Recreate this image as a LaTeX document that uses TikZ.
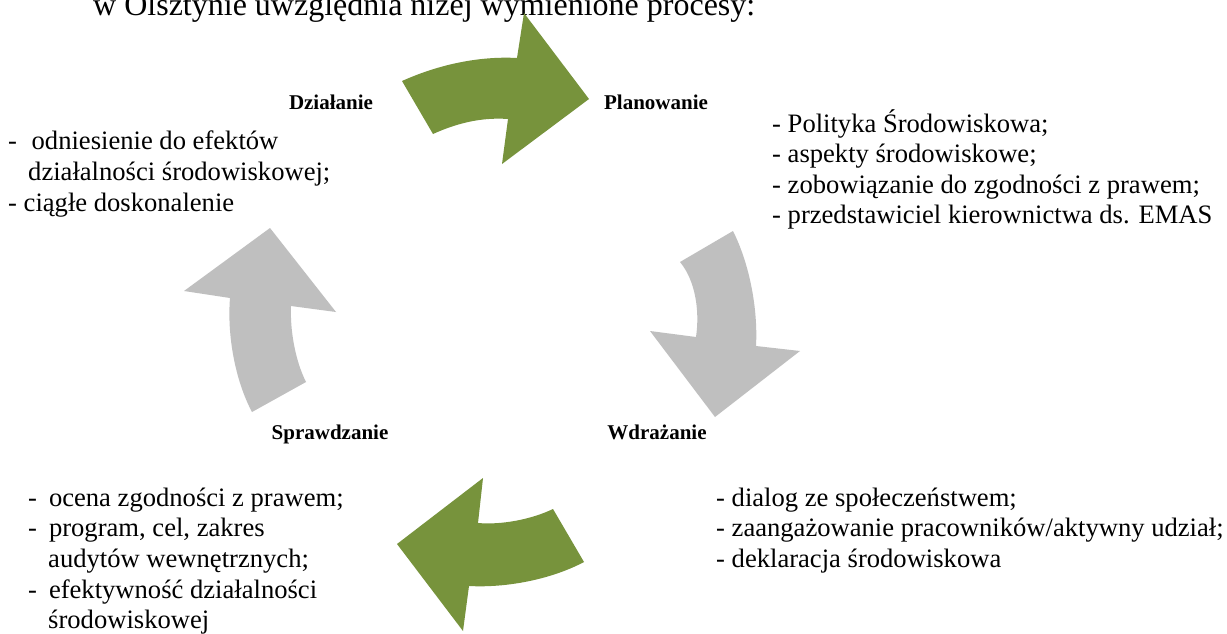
\documentclass[tikz,border=0pt]{standalone}
\usepackage{fontspec}
\setmainfont{Liberation Serif}
\definecolor{olive}{RGB}{119,147,60}
\definecolor{lgray}{RGB}{191,191,191}
\tikzset{
  body/.style={anchor=base west, inner sep=0pt, font=\fontsize{26.6}{30}\selectfont},
  toptext/.style={anchor=base west, inner sep=0pt, font=\fontsize{32}{36}\selectfont},
  lbl/.style={anchor=base, inner sep=0pt, font=\bfseries\fontsize{21}{25}\selectfont},
  greenarrow/.style={fill=olive, draw=none},
  grayarrow/.style={fill=lgray, draw=none}
}
\begin{document}
\begin{tikzpicture}[x=1pt,y=-1pt]
\clip (0,0) rectangle (1227,634);
\fill[white] (0,0) rectangle (1227,634);
% top cut-off text
\node[toptext] (intro) at (93,16) {w Olsztynie uwzględnia niżej wymienione procesy:};
% arrows
\fill[greenarrow] (402,81) -- (433,134) .. controls (455,124) and (480,117) .. (508,119)
  -- (502,164) -- (589,99) -- (524,13) -- (517,58)
  .. controls (480,56) and (440,64) .. cycle;
\fill[grayarrow] (680,262) -- (733,231) .. controls (750,265) and (758,310) .. (756,346)
  -- (800,351) -- (715,417) -- (650,331) -- (696,337)
  .. controls (700,310) and (695,280) .. cycle;
\fill[greenarrow] (553,509) -- (584,562) .. controls (550,580) and (505,588) .. (469,586)
  -- (463,631) -- (397,544) -- (483,478) -- (478,523)
  .. controls (500,525) and (530,520) .. cycle;
\fill[grayarrow] (252,412) -- (306,382) .. controls (295,360) and (290,330) .. (291,306)
  -- (336,312) -- (270,228) -- (184,291) -- (230,298)
  .. controls (227,335) and (235,380) .. cycle;
% labels
\node[lbl] (dzialanie) at (331,110) {Działanie};
\node[lbl] (planowanie) at (656,110) {Planowanie};
\node[lbl] (wdrazanie) at (657,439) {Wdrażanie};
\node[lbl] (sprawdzanie) at (330,439) {Sprawdzanie};
% top-left block
\node[body] (a1) at (8,149) {-\hspace{0.55em}odniesienie do efektów};
\node[body] (a2) at (28,180) {działalności środowiskowej;};
\node[body] (a3) at (8,211) {- ciągłe doskonalenie};
% top-right block
\node[body] (p1) at (772,132) {- Polityka Środowiskowa;};
\node[body] (p2) at (772,162) {- aspekty środowiskowe;};
\node[body] (p3) at (772,193) {- zobowiązanie do zgodności z prawem;};
\node[body] (p4) at (772,223) {- przedstawiciel kierownictwa ds. EMAS};
% bottom-right block
\node[body] (w1) at (716,506) {- dialog ze społeczeństwem;};
\node[body] (w2) at (716,536) {- zaangażowanie pracowników/aktywny udział;};
\node[body] (w3) at (716,567) {- deklaracja środowiskowa};
% bottom-left block
\node[body] (s1) at (28,506) {-\hspace{0.45em}ocena zgodności z prawem;};
\node[body] (s2) at (28,536) {-\hspace{0.45em}program, cel, zakres};
\node[body] (s3) at (48,567) {audytów wewnętrznych;};
\node[body] (s4) at (28,598) {-\hspace{0.45em}efektywność działalności};
\node[body] (s5) at (48,628) {środowiskowej};
\end{tikzpicture}
\end{document}
